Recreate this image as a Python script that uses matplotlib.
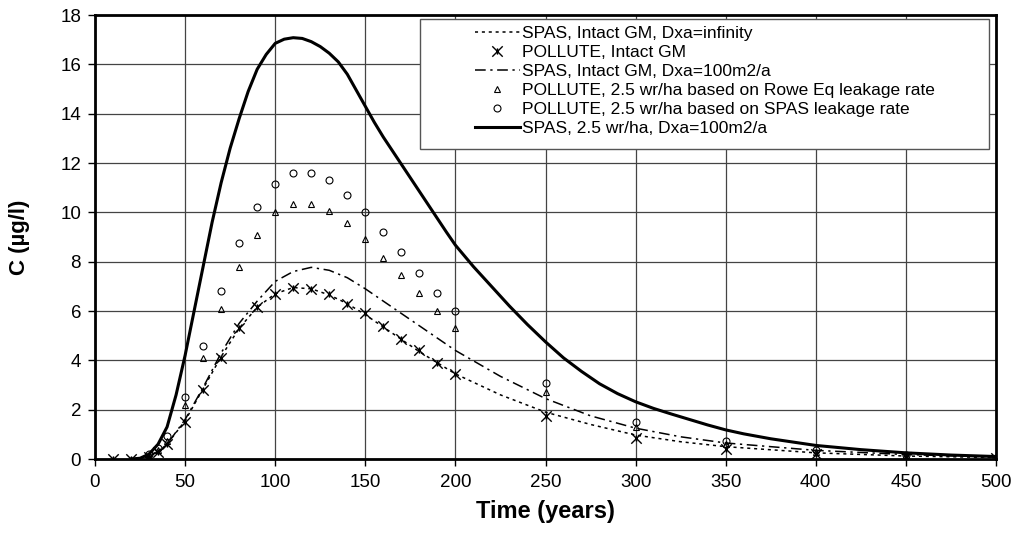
import numpy as np
import matplotlib
matplotlib.use('Agg')
import matplotlib.pyplot as plt
from matplotlib.path import Path
from matplotlib.patches import Rectangle

plt.rcParams['font.family'] = ['Liberation Sans', 'DejaVu Sans']

# 시점 (years) - 마커 데이터
t_pts = [10, 20, 30, 35, 40, 50, 60, 70, 80, 90, 100, 110, 120, 130, 140, 150,
         160, 170, 180, 190, 200, 250, 300, 350, 400, 450, 500]
pollute_intact = [0, 0, 0.1, 0.3, 0.6, 1.5, 2.8, 4.1, 5.3, 6.15, 6.7, 6.95, 6.9, 6.7,
                  6.3, 5.9, 5.4, 4.85, 4.4, 3.9, 3.45, 1.75, 0.85, 0.4, 0.2, 0.1, 0.05]

t_pts2 = [30, 35, 40, 50, 60, 70, 80, 90, 100, 110, 120, 130, 140, 150,
          160, 170, 180, 190, 200, 250, 300, 350, 400, 450, 500]
pollute_rowe = [0.15, 0.35, 0.75, 2.2, 4.1, 6.1, 7.8, 9.1, 10.0, 10.35, 10.35, 10.05,
                9.55, 8.9, 8.15, 7.45, 6.75, 6.0, 5.3, 2.7, 1.3, 0.6, 0.3, 0.15, 0.05]
pollute_spas = [0.2, 0.45, 0.95, 2.5, 4.6, 6.8, 8.75, 10.2, 11.15, 11.6, 11.6, 11.3,
                10.7, 10.0, 9.2, 8.4, 7.55, 6.75, 6.0, 3.1, 1.5, 0.75, 0.35, 0.15, 0.05]

# 선 그래프 데이터
t_line = [20, 25, 30, 35, 40, 50, 60, 70, 80, 90, 100, 110, 120, 130, 140, 150,
          160, 170, 180, 190, 200, 225, 250, 275, 300, 325, 350, 400, 450, 500]
spas_inf = [0, 0.02, 0.1, 0.3, 0.6, 1.55, 2.85, 4.15, 5.3, 6.15, 6.7, 6.95, 6.9, 6.65,
            6.3, 5.85, 5.35, 4.85, 4.35, 3.9, 3.45, 2.6, 1.9, 1.4, 0.97, 0.7, 0.5, 0.25, 0.12, 0.06]
spas_100 = [0, 0.02, 0.1, 0.3, 0.6, 1.6, 2.9, 4.3, 5.5, 6.4, 7.2, 7.6, 7.77, 7.65,
            7.35, 6.9, 6.4, 5.9, 5.4, 4.9, 4.4, 3.35, 2.45, 1.75, 1.25, 0.9, 0.65, 0.35, 0.18, 0.08]

t_solid = [20, 25, 30, 35, 40, 45, 50, 55, 60, 65, 70, 75, 80, 85, 90, 95, 100, 105,
           110, 115, 120, 125, 130, 135, 140, 145, 150, 155, 160, 165, 170, 175, 180,
           185, 190, 195, 200, 210, 220, 230, 240, 250, 260, 270, 280, 290, 300, 310,
           320, 330, 340, 350, 360, 375, 400, 425, 450, 475, 500]
spas_leak = [0, 0.03, 0.2, 0.6, 1.3, 2.6, 4.2, 6.0, 7.8, 9.6, 11.2, 12.6, 13.8, 14.9,
             15.8, 16.4, 16.85, 17.02, 17.08, 17.05, 16.92, 16.72, 16.45, 16.1, 15.6,
             14.95, 14.3, 13.65, 13.05, 12.5, 11.95, 11.4, 10.85, 10.3, 9.75, 9.2, 8.67,
             7.8, 7.0, 6.2, 5.45, 4.75, 4.1, 3.55, 3.05, 2.65, 2.32, 2.05, 1.82, 1.6,
             1.38, 1.18, 1.02, 0.82, 0.55, 0.38, 0.25, 0.16, 0.1]

# 엑셀 스타일 별 마커 (X + 세로선)
star = Path([(-1, -1), (1, 1), (-1, 1), (1, -1), (0, -0.6), (0, 0.6)],
            [Path.MOVETO, Path.LINETO, Path.MOVETO, Path.LINETO, Path.MOVETO, Path.LINETO])

fig = plt.figure(figsize=(10.16, 5.43), dpi=100)
ax = fig.add_axes([95 / 1016, 84 / 543, 901 / 1016, 444 / 543])

ax.plot(t_line, spas_inf, color='black', lw=1.1, linestyle=(0, (2, 2.5)),
        label='SPAS, Intact GM, Dxa=infinity')
ax.plot(t_pts, pollute_intact, linestyle='none', marker=star, markersize=7.5,
        markerfacecolor='none', markeredgecolor='black', markeredgewidth=1.0,
        label='POLLUTE, Intact GM')
ax.plot(t_line, spas_100, color='black', lw=1.1, linestyle=(0, (7, 3, 1.5, 3)),
        label='SPAS, Intact GM, Dxa=100m2/a')
ax.plot(t_pts2, pollute_rowe, linestyle='none', marker='^', markersize=4.8,
        markerfacecolor='none', markeredgecolor='black', markeredgewidth=0.8,
        label='POLLUTE, 2.5 wr/ha based on Rowe Eq leakage rate')
ax.plot(t_pts2, pollute_spas, linestyle='none', marker='o', markersize=5,
        markerfacecolor='none', markeredgecolor='black', markeredgewidth=0.8,
        label='POLLUTE, 2.5 wr/ha based on SPAS leakage rate')
ax.plot(t_solid, spas_leak, color='black', lw=2.2, label='SPAS, 2.5 wr/ha, Dxa=100m2/a')

ax.set_xlim(0, 500)
ax.set_ylim(0, 18)
ax.set_xticks(np.arange(0, 501, 50))
ax.set_yticks(np.arange(0, 19, 2))
ax.grid(True, color='#444444', lw=0.9)
ax.set_axisbelow(True)
for s in ax.spines.values():
    s.set_linewidth(2)
ax.tick_params(axis='x', labelsize=13.5, length=5, width=1, pad=6)
ax.tick_params(axis='y', labelsize=13.5, length=5, width=1, pad=5)
ax.set_xlabel('Time (years)', fontsize=17, fontweight='bold', labelpad=6)
ax.set_ylabel('C (µg/l)', fontsize=16, fontweight='bold', labelpad=22)

# 범례 - 테두리는 따로 그림
ax.add_patch(Rectangle((420 / 1016, (543 - 149) / 543), 569 / 1016, 130 / 543,
                       transform=fig.transFigure, facecolor='white',
                       edgecolor='#555555', lw=1, zorder=4, clip_on=False))
leg = ax.legend(loc='upper left', bbox_to_anchor=(466 / 1016, 1 - 17 / 543),
                bbox_transform=fig.transFigure, fontsize=12.5, frameon=False,
                borderpad=0, labelspacing=0.22, handlelength=2.6, handletextpad=0.15)
leg.set_zorder(5)

plt.savefig('out.png', dpi=100)
